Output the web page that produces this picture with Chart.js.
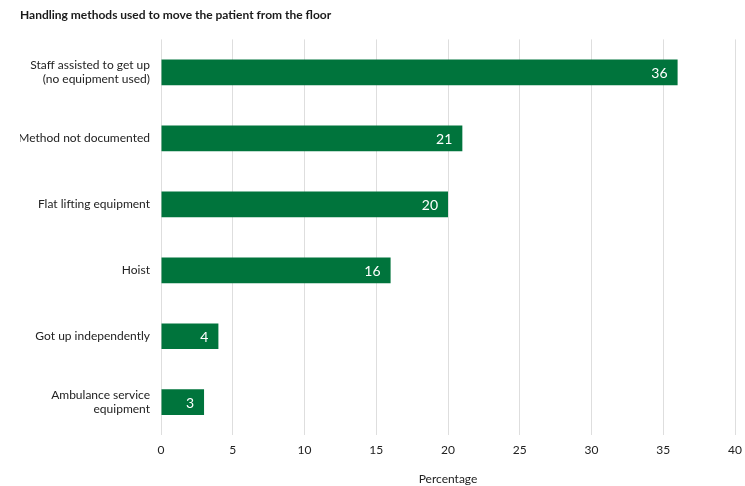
<!DOCTYPE html>
<html>
<head>
<meta charset="utf-8">
<script src="https://cdn.jsdelivr.net/npm/chart.js@4/dist/chart.umd.min.js"></script>
<style>
  html, body { margin: 0; padding: 0; background: #fff; }
  #wrap { width: 745px; height: 486px; position: relative; }
</style>
</head>
<body>
<div id="wrap"><canvas id="chart"></canvas></div>
<script>
// ─── Data ───
const methods = [
  ['Staff assisted to get up', '(no equipment used)'],
  'Method not documented',
  'Flat lifting equipment',
  'Hoist',
  'Got up independently',
  ['Ambulance service', 'equipment'],
];
const percentages = [36, 21, 20, 16, 4, 3];
const xTicks = [0, 5, 10, 15, 20, 25, 30, 35, 40];

const GREEN = '#00743c';
const FONT = "Lato, 'Open Sans', sans-serif";

// white value text drawn just inside the end of each bar
const barValues = {
  id: 'barValues',
  afterDatasetsDraw(chart) {
    const { ctx } = chart;
    const meta = chart.getDatasetMeta(0);
    ctx.save();
    ctx.fillStyle = '#fff';
    ctx.font = `14px ${FONT}`;
    ctx.textAlign = 'right';
    ctx.textBaseline = 'middle';
    meta.data.forEach((bar, i) => {
      ctx.fillText(String(percentages[i]), bar.x - 10, bar.y + 1);
    });
    ctx.restore();
  }
};

new Chart(document.getElementById('chart'), {
  type: 'bar',
  data: {
    labels: methods,
    datasets: [{ data: percentages, backgroundColor: GREEN, borderWidth: 0, barPercentage: 0.39, categoryPercentage: 1 }]
  },
  options: {
    indexAxis: 'y',
    responsive: true,
    maintainAspectRatio: false,
    animation: false,
    layout: { padding: { left: 20, right: 10, top: 0, bottom: 0 } },
    plugins: {
      legend: { display: false },
      tooltip: { enabled: false },
      title: {
        display: true,
        text: 'Handling methods used to move the patient from the floor',
        align: 'start',
        color: '#1a1a1a',
        font: { family: FONT, size: 12, weight: 'bold' },
        padding: { top: 8, bottom: 17 }
      }
    },
    scales: {
      x: {
        min: 0, max: 40,
        afterBuildTicks: s => { s.ticks = xTicks.map(v => ({ value: v })); },
        afterFit: s => { s.paddingLeft = 0; s.paddingRight = 0; },
        grid: { color: '#dedede', lineWidth: 1, drawTicks: false },
        border: { display: false },
        ticks: { color: '#222', font: { family: FONT, size: 12 }, padding: 8 },
        title: { display: true, text: 'Percentage', color: '#222', font: { family: FONT, size: 12 }, padding: { top: 6, bottom: 0 } }
      },
      y: {
        grid: { display: false, drawTicks: false },
        border: { display: false },
        afterFit: s => { s.width = 141; },
        ticks: { color: '#222', font: { family: FONT, size: 12 }, padding: 11 }
      }
    }
  },
  plugins: [barValues]
});
</script>
</body>
</html>
